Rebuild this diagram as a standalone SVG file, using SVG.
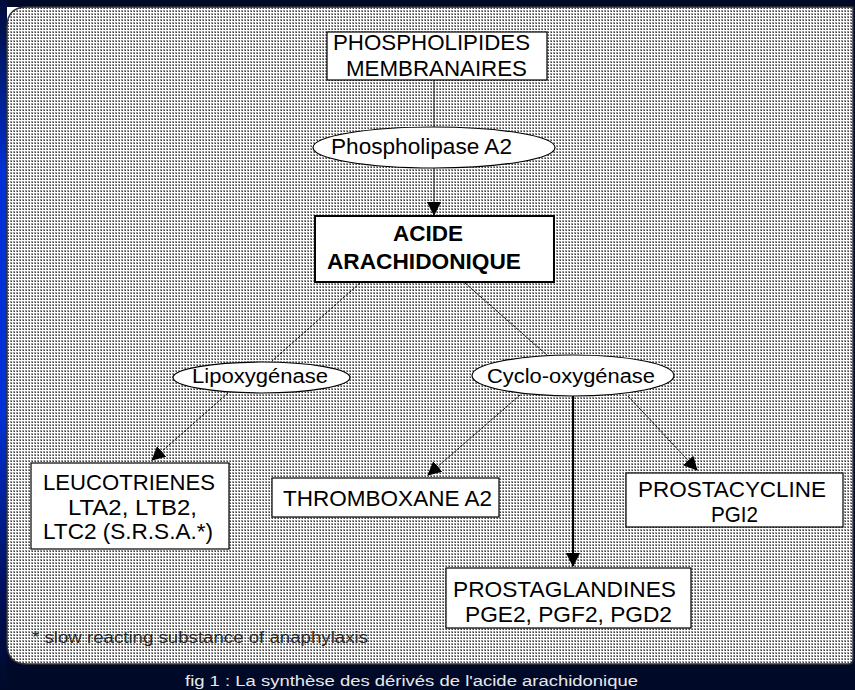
<svg xmlns="http://www.w3.org/2000/svg" width="855" height="690" viewBox="0 0 855 690">
<defs>
<linearGradient id="strip" x1="0" y1="0" x2="0" y2="1">
<stop offset="0" stop-color="#000c3a"/>
<stop offset="0.25" stop-color="#0030d8"/>
<stop offset="0.6" stop-color="#0030d8"/>
<stop offset="0.85" stop-color="#001060"/>
<stop offset="1" stop-color="#000a28"/>
</linearGradient>
<pattern id="dots" x="0" y="0" width="3" height="3" patternUnits="userSpaceOnUse">
<rect width="3" height="3" fill="#ffffff"/>
<rect x="1" y="1" width="2" height="2" fill="#9a9a9a"/>
<rect x="2" y="2" width="1" height="1" fill="#404040"/>
</pattern>
<marker id="ah" markerWidth="14" markerHeight="14" refX="13" refY="7" orient="auto" markerUnits="userSpaceOnUse">
<path d="M0,0 L14,7 L0,14 z" fill="#000"/>
</marker>
<style>
.t{font-family:"Liberation Sans",Arial,sans-serif;font-size:22px;fill:#000;}
.b{font-weight:bold;}
.box{fill:#fff;stroke:#000;stroke-width:1.2;}
.ell{fill:#fff;stroke:#000;stroke-width:1.2;}
.dash{stroke:#111;stroke-width:1;stroke-dasharray:3 1;fill:none;}
.solid{stroke:#222;stroke-width:1;fill:none;}
</style>
</defs>
<rect width="855" height="690" fill="#000a28"/>
<rect x="0" y="0" width="7" height="690" fill="url(#strip)"/>
<rect x="7" y="7" width="22" height="22" fill="#fff"/>
<path d="M27,7 H853 V659 Q853,664 848,664 H27 Q7,664 7,644 V27 Q7,7 27,7 Z" fill="url(#dots)" stroke="#333" stroke-width="1.5"/>

<g id="connectors">
<line class="solid" x1="434" y1="80" x2="434" y2="127"/>
<line class="solid" x1="434" y1="168" x2="434" y2="215" marker-end="url(#ah)"/>
<line class="dash" x1="360" y1="283" x2="272" y2="361"/>
<line class="dash" x1="465" y1="283" x2="548" y2="356"/>
<line class="dash" x1="228" y1="393" x2="152" y2="460" marker-end="url(#ah)"/>
<line class="dash" x1="520" y1="395" x2="428" y2="475" marker-end="url(#ah)"/>
<line class="dash" x1="628" y1="396" x2="697" y2="470" marker-end="url(#ah)"/>
<line x1="573" y1="396" x2="573" y2="566" stroke="#000" stroke-width="2" marker-end="url(#ah)"/>
</g>

<g id="phospholipides">
<rect class="box" x="327" y="32" width="220" height="48"/>
<text class="t" x="333" y="50" textLength="197" lengthAdjust="spacingAndGlyphs">PHOSPHOLIPIDES</text>
<text class="t" x="346" y="76" textLength="181" lengthAdjust="spacingAndGlyphs">MEMBRANAIRES</text>
</g>
<g id="phospholipase">
<ellipse class="ell" cx="434" cy="147.5" rx="121" ry="20.5"/>
<text class="t" x="331" y="154" textLength="181" lengthAdjust="spacingAndGlyphs">Phospholipase A2</text>
</g>
<g id="acide">
<rect x="315" y="216" width="239" height="66" fill="#fff" stroke="#000" stroke-width="2"/>
<text class="t b" x="393" y="241" textLength="70" lengthAdjust="spacingAndGlyphs">ACIDE</text>
<text class="t b" x="327" y="269" textLength="194" lengthAdjust="spacingAndGlyphs">ARACHIDONIQUE</text>
</g>
<g id="lipoxygenase">
<ellipse class="ell" cx="261.5" cy="377.5" rx="88.5" ry="15.5"/>
<text class="t" x="192" y="383" textLength="136" lengthAdjust="spacingAndGlyphs" style="font-size:20px">Lipoxygénase</text>
</g>
<g id="cyclooxygenase">
<ellipse class="ell" cx="573" cy="375.5" rx="101" ry="20.5"/>
<text class="t" x="487" y="383" textLength="168" lengthAdjust="spacingAndGlyphs" style="font-size:20px">Cyclo-oxygénase</text>
</g>
<g id="leucotrienes">
<rect class="box" x="31" y="463" width="198" height="86"/>
<text class="t" x="43" y="490" textLength="172" lengthAdjust="spacingAndGlyphs">LEUCOTRIENES</text>
<text class="t" x="68" y="515" textLength="129" lengthAdjust="spacingAndGlyphs">LTA2, LTB2,</text>
<text class="t" x="43" y="539" textLength="170" lengthAdjust="spacingAndGlyphs">LTC2 (S.R.S.A.*)</text>
</g>
<g id="thromboxane">
<rect class="box" x="272" y="478" width="227" height="39"/>
<text class="t" x="283" y="506" textLength="209" lengthAdjust="spacingAndGlyphs">THROMBOXANE A2</text>
</g>
<g id="prostacycline">
<rect class="box" x="626" y="473" width="217" height="54"/>
<text class="t" x="638" y="497" textLength="188" lengthAdjust="spacingAndGlyphs">PROSTACYCLINE</text>
<text class="t" x="711" y="522" textLength="47" lengthAdjust="spacingAndGlyphs">PGI2</text>
</g>
<g id="prostaglandines">
<rect class="box" x="446" y="568" width="245" height="60"/>
<text class="t" x="453" y="597" textLength="223" lengthAdjust="spacingAndGlyphs">PROSTAGLANDINES</text>
<text class="t" x="465" y="622" textLength="207" lengthAdjust="spacingAndGlyphs">PGE2, PGF2, PGD2</text>
</g>
<text class="t" x="32" y="643" textLength="336" lengthAdjust="spacingAndGlyphs" style="font-size:16px;fill:#2a2a2a">* slow reacting substance of anaphylaxis</text>
<text class="t" x="185" y="686" textLength="453" lengthAdjust="spacingAndGlyphs" style="font-size:14px;fill:#e8e8e8">fig 1 : La synthèse des dérivés de  l'acide arachidonique</text>
</svg>
